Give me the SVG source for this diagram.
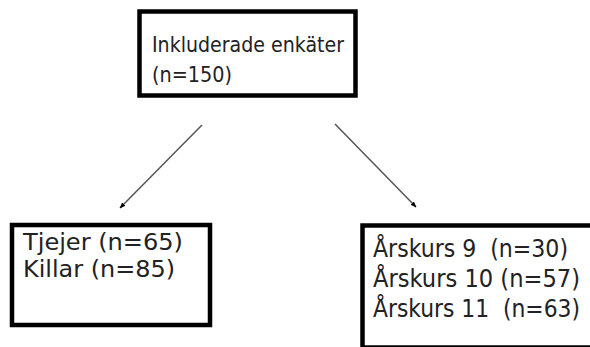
<svg xmlns="http://www.w3.org/2000/svg" width="590" height="347" viewBox="0 0 590 347">
<style>
.box{fill:#fff;stroke:#000;stroke-width:4.5}
.t{font-family:"DejaVu Sans Condensed","DejaVu Sans",sans-serif;fill:#222;font-size:24px}
.s{font-size:22px}
.m{font-size:23px}
.conn{stroke:#555;stroke-width:1.5;fill:none;marker-end:url(#ah)}
</style>
<defs>
<marker id="ah" viewBox="0 0 10 10" refX="9" refY="5" markerWidth="6" markerHeight="6" orient="auto" markerUnits="userSpaceOnUse">
<path d="M0,1 L10,5 L0,9 z" fill="#000"/>
</marker>
</defs>
<rect width="590" height="347" fill="#fff"/>
<g id="top">
<rect class="box" x="139.5" y="11.5" width="216" height="84"/>
<text class="t s" x="152" y="52" textLength="192" lengthAdjust="spacingAndGlyphs">Inkluderade enkäter</text>
<text class="t s" x="152" y="82" textLength="80" lengthAdjust="spacingAndGlyphs">(n=150)</text>
</g>
<g id="left">
<rect class="box" x="12" y="225" width="198" height="100"/>
<text class="t m" x="23" y="250" textLength="160" lengthAdjust="spacingAndGlyphs">Tjejer (n=65)</text>
<text class="t m" x="23" y="277" textLength="152" lengthAdjust="spacingAndGlyphs">Killar (n=85)</text>
</g>
<g id="right">
<rect class="box" x="362.5" y="225.5" width="240" height="122"/>
<text class="t" x="373" y="257" xml:space="preserve" textLength="195" lengthAdjust="spacingAndGlyphs">Årskurs 9  (n=30)</text>
<text class="t" x="373" y="287" textLength="207" lengthAdjust="spacingAndGlyphs">Årskurs 10 (n=57)</text>
<text class="t" x="373" y="317" xml:space="preserve" textLength="207" lengthAdjust="spacingAndGlyphs">Årskurs 11  (n=63)</text>
</g>
<g id="connectors">
<line class="conn" x1="202" y1="125" x2="120" y2="208"/>
<line class="conn" x1="335" y1="124" x2="416" y2="207"/>
</g>
</svg>
